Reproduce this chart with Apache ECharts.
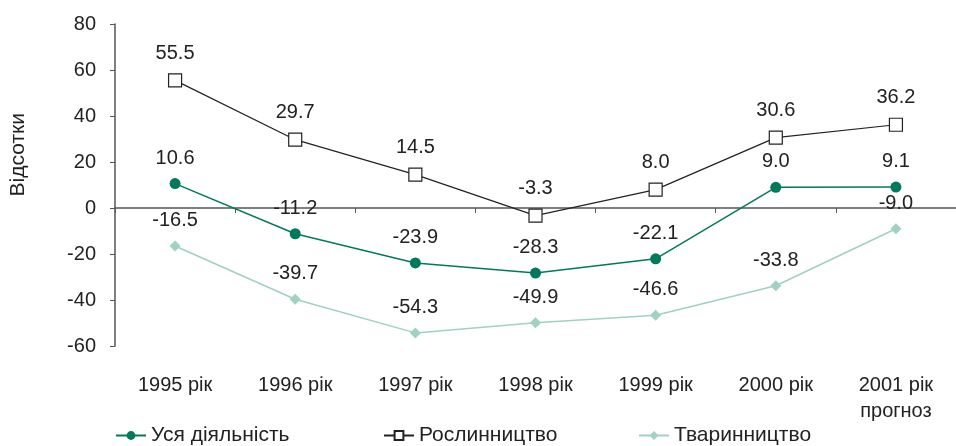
<!DOCTYPE html>
<html><head><meta charset="utf-8">
<script src="https://cdn.jsdelivr.net/npm/echarts@6/dist/echarts.min.js"></script>
<style>html,body{margin:0;padding:0;background:#fff}#c{width:956px;height:446px}</style>
</head><body><div id="c"></div>
<script>
const categories = ['1995 рік','1996 рік','1997 рік','1998 рік','1999 рік','2000 рік','2001 рік\nпрогноз'];
const seriesNames = ['Уся діяльність','Рослинництво','Тваринництво'];
const allActivity = [10.6, -11.2, -23.9, -28.3, -22.1, 9.0, 9.1];
const cropFarming = [55.5, 29.7, 14.5, -3.3, 8.0, 30.6, 36.2];
const livestock = [-16.5, -39.7, -54.3, -49.9, -46.6, -33.8, -9.0];
const yTicks = {min: -60, max: 80, interval: 20};
const yAxisTitle = 'Відсотки';

const font = 'Liberation Sans, Arial, sans-serif';
const chart = echarts.init(document.getElementById('c'));
const lbl = {show: true, position: 'top', distance: 10, color: '#222', fontSize: 20, fontFamily: font,
  formatter: p => p.value.toFixed(1)};
const legendBase = {top: 425, padding: 0, itemWidth: 30, itemHeight: 11, textStyle: {fontSize: 21, color: '#222', fontFamily: font}};
chart.setOption({
  animation: false,
  grid: {left: 115, right: -7, top: 24, bottom: 100},
  legend: [
    Object.assign({data: [seriesNames[0]], left: 115}, legendBase),
    Object.assign({data: [seriesNames[1]], left: 383}, legendBase),
    Object.assign({data: [seriesNames[2]], left: 638}, legendBase)
  ],
  graphic: [{type: 'text', left: 8, top: 113, rotation: Math.PI/2,
    style: {text: yAxisTitle, fontSize: 21, fill: '#222', fontFamily: font}}],
  xAxis: [
    {type: 'category', data: categories, boundaryGap: true,
     axisLine: {onZero: true, lineStyle: {color: '#555', width: 1.5}},
     axisTick: {show: true, length: 5, lineStyle: {color: '#555'}},
     axisLabel: {show: false}},
    {type: 'category', data: categories, boundaryGap: true, position: 'bottom',
     axisLine: {show: false, onZero: false}, axisTick: {show: false},
     axisLabel: {color: '#222', fontSize: 20, fontFamily: font, margin: 26, lineHeight: 26}}
  ],
  yAxis: {type: 'value', min: yTicks.min, max: yTicks.max, interval: yTicks.interval,
    splitLine: {show: false},
    axisLine: {show: true, lineStyle: {color: '#555', width: 1.5}},
    axisTick: {show: true, length: 5, lineStyle: {color: '#555'}},
    axisLabel: {color: '#222', fontSize: 20, fontFamily: font, margin: 19}},
  series: [
    {name: seriesNames[0], type: 'line', data: allActivity, symbol: 'circle', symbolSize: 11,
     itemStyle: {color: '#007a5a'}, lineStyle: {color: '#007a5a', width: 1.5}, label: lbl, z: 3},
    {name: seriesNames[1], type: 'line', data: cropFarming, symbol: 'rect', symbolSize: 13,
     itemStyle: {color: '#fff', borderColor: '#222', borderWidth: 1.2}, lineStyle: {color: '#222', width: 1.2}, label: lbl, z: 2},
    {name: seriesNames[2], type: 'line', data: livestock, symbol: 'diamond', symbolSize: 11,
     itemStyle: {color: '#9fd2bf'}, lineStyle: {color: '#9fd2bf', width: 1.5}, label: lbl, z: 1}
  ]
});
</script></body></html>
